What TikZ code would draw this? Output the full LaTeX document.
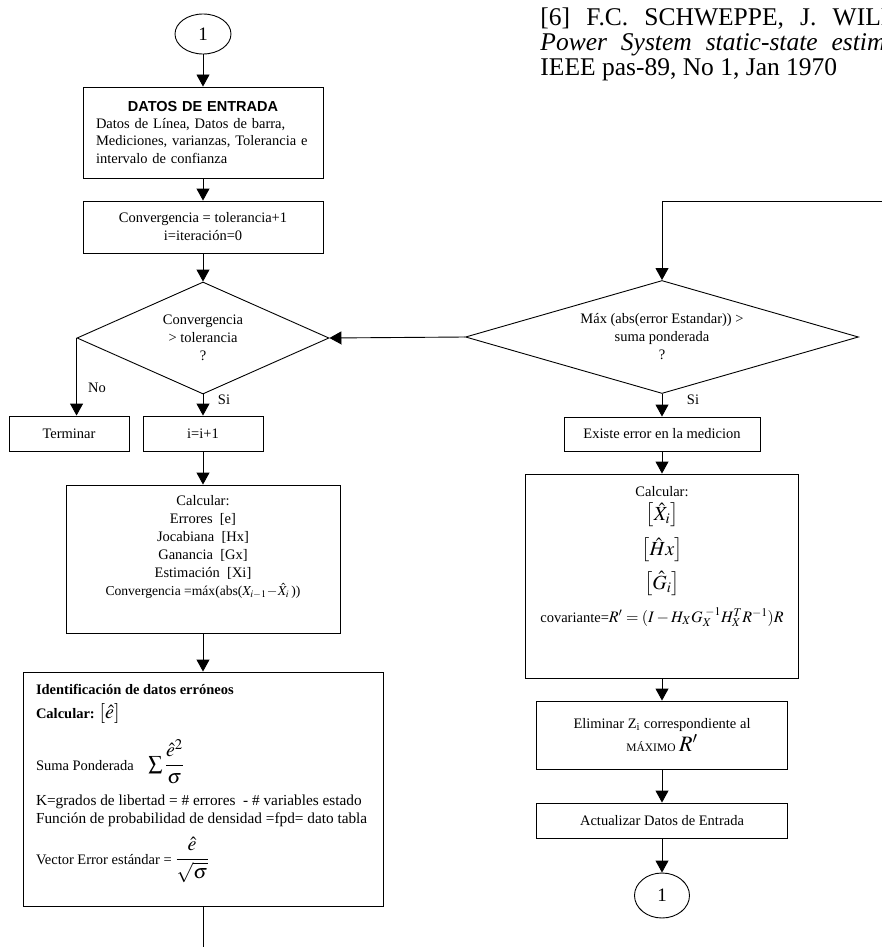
\documentclass[tikz,border=0pt]{standalone}
\usepackage{amsmath}
\usepackage{mathptmx}
\usepackage{fontspec}
\setmainfont{Liberation Serif}
\setsansfont{Liberation Sans}
\usetikzlibrary{shapes.geometric,arrows.meta,positioning,calc}

\begin{document}
\begin{tikzpicture}[x=1pt,y=-1pt,line width=0.9pt,
    font=\fontsize{14.5}{18}\selectfont,
    box/.style={draw,rectangle,inner sep=0pt,align=center},
    decision/.style={draw,diamond,inner sep=0pt,align=center},
    conector/.style={draw,ellipse,inner sep=0pt,font=\fontsize{19}{19}\selectfont},
    arr/.style={-{Triangle[length=12pt,width=13pt]}},
    lbl/.style={inner sep=0pt}]
    \path[use as bounding box,clip] (0,0) rectangle (882,947);

    % Referencia
    \node[anchor=north west,inner sep=0pt,align=left,font=\fontsize{25.5}{25}\selectfont] (ref) at (540,7)
        {\makebox[356pt][s]{[6] F.C. SCHWEPPE, J. WILL}\\
         \makebox[345pt][s]{\itshape Power System static-state estim}\\
         IEEE pas-89, No 1, Jan 1970};

    % Columna izquierda
    \node[conector,minimum width=56,minimum height=40] (uno) at (203,34) {1};
    \node[box,minimum width=240,minimum height=91,text width=214pt,align=left] (datos) at (203,132.5)
        {{\centering\sffamily\bfseries\fontsize{14.5}{17}\selectfont DATOS DE ENTRADA\par}
         \fontsize{14.5}{17}\selectfont Datos de Línea, Datos de barra,\\
         Mediciones, varianzas, Tolerancia e\\
         intervalo de confianza};
    \node[box,minimum width=240,minimum height=52] (inicio) at (203,227)
        {Convergencia = tolerancia+1\\ i=iteración=0};
    \node[decision,aspect=2.25,minimum width=252,minimum height=112] (conv) at (203,338)
        {Convergencia\\ > tolerancia\\ ?};
    \node[box,minimum width=120,minimum height=35] (fin) at (69,433.5) {Terminar};
    \node[box,minimum width=120,minimum height=35] (iter) at (203,433.5) {i=i+1};
    \node[box,minimum width=274,minimum height=148] (calc) at (203,559)
        {\parbox[c][128pt][t]{266pt}{\centering\lineskiplimit=-100pt
         Calcular:\\
         Errores~~[e]\\
         Jocabiana~~[Hx]\\
         Ganancia~~[Gx]\\
         Estimación~~[Xi]\\
         {\fontsize{13.6}{18}\selectfont Convergencia =máx(abs($X_{i-1}\!-\!\hat{X}_{i}$\,))}}};
    \node[box,minimum width=360,minimum height=234] (ident) at (203,789)
        {\parbox[c][210pt][t]{334pt}{\raggedright\lineskiplimit=-100pt
         \textbf{Identificación de datos erróneos}\\[6pt]
         \textbf{Calcular:} {\fontsize{20}{20}\selectfont$\left[\hat{e}\right]$}\\[34pt]
         Suma Ponderada\quad {\fontsize{20}{20}\selectfont$\sum\dfrac{\hat{e}^{2}}{\sigma}$}\\[17pt]
         {\fontsize{15.3}{18}\selectfont K=grados de libertad = \# errores~ - \# variables estado\\
         Función de probabilidad de densidad =fpd= dato tabla}\\[23pt]
         Vector Error estándar = {\fontsize{20}{20}\selectfont$\dfrac{\hat{e}}{\sqrt{\sigma}}$}}};
    \coordinate (cola) at (203,947);

    % Columna derecha
    \coordinate (lazo) at (882,201);
    \node[decision,aspect=3.48,minimum width=393,minimum height=113] (maxerr) at (662,337)
        {Máx (abs(error Estandar)) >\\ suma ponderada\\ ?};
    \node[box,minimum width=196,minimum height=34] (existe) at (662,434) {Existe error en la medicion};
    \node[box,minimum width=273,minimum height=204] (calcr) at (662,576)
        {\parbox[c][180pt][t]{265pt}{\centering\lineskiplimit=-100pt
         Calcular:\\[6pt]
         {\fontsize{20}{18}\selectfont $\left[\hat{X}_{i}\right]$\\[17pt]
         $\left[\hat{H}x\right]$\\[16pt]
         $\left[\hat{G}_{i}\right]$\\[15pt]}
         covariante={\fontsize{16}{18}\selectfont$R' = (I - H_{X}G_{X}^{\;-1}H_{X}^{T}R^{-1})R$}}};
    \node[box,minimum width=251,minimum height=68] (elim) at (662,735)
        {Eliminar Z\textsubscript{i} correspondiente al\\[2pt]
         {\fontsize{11.5}{12}\selectfont MÁXIMO}\ {\fontsize{22}{22}\selectfont$R'$}};
    \node[box,minimum width=251,minimum height=35] (actual) at (662,820.5) {Actualizar Datos de Entrada};
    \node[conector,minimum width=55,minimum height=45] (uno2) at (662,895.5) {1};

    % Etiquetas
    \node[lbl] (no) at (97,388) {No};
    \node[lbl] (si) at (224,400) {Si};
    \node[lbl] (si2) at (693,400) {Si};

    % Conexiones
    \draw[arr] (uno) -- (datos);
    \draw[arr] (datos) -- (inicio);
    \draw[arr] (inicio) -- (conv);
    \draw[arr] (conv.west) -- (conv.west |- fin.north);
    \draw[arr] (conv) -- (iter);
    \draw[arr] (iter) -- (calc);
    \draw[arr] (calc) -- (ident);
    \draw (ident) -- (cola);
    \draw[arr] (lazo) -| (maxerr.north);
    \draw[arr] (maxerr.west) -- (conv.east);
    \draw[arr] (maxerr) -- (existe);
    \draw[arr] (existe) -- (calcr);
    \draw[arr] (calcr) -- (elim);
    \draw[arr] (elim) -- (actual);
    \draw[arr] (actual) -- (uno2);
\end{tikzpicture}
\end{document}
